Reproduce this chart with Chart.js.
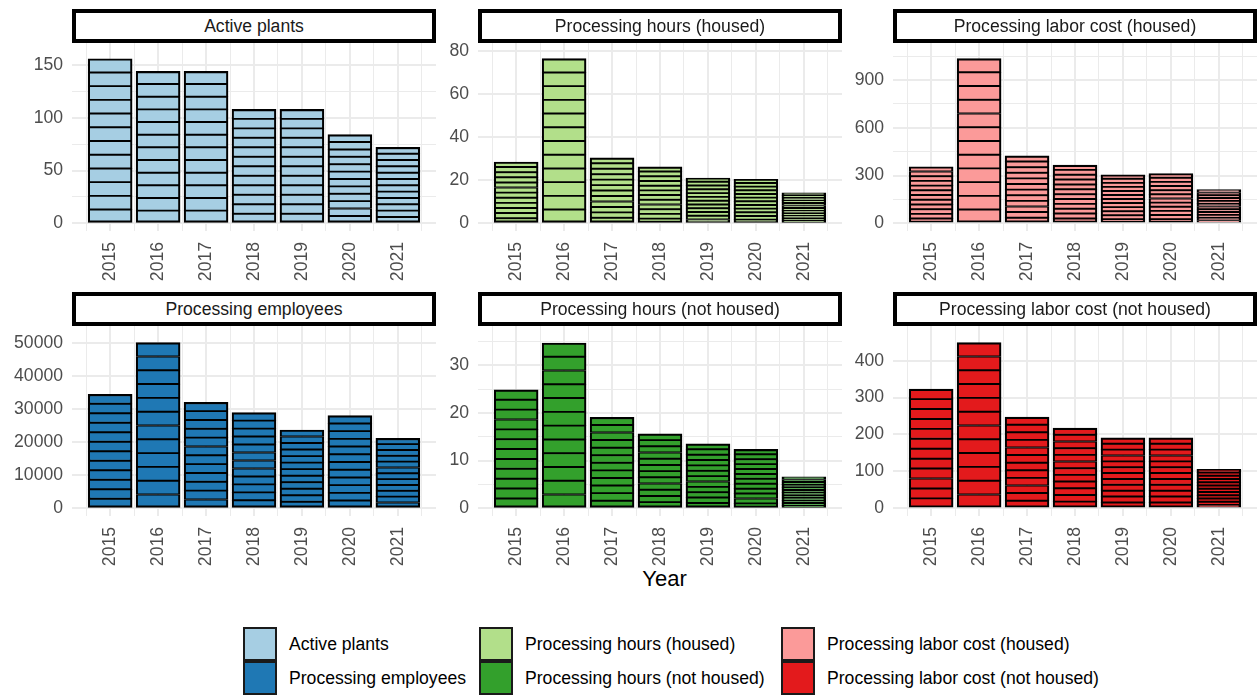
<!DOCTYPE html>
<html>
<head>
<meta charset="utf-8">
<script src="https://cdn.jsdelivr.net/npm/chart.js@4.4.1/dist/chart.umd.min.js"></script>
<style>
  html, body { margin: 0; padding: 0; background: #ffffff; }
  body { width: 1259px; height: 696px; position: relative; overflow: hidden;
         font-family: "Liberation Sans", Arial, Helvetica, sans-serif; }
  canvas.panel { position: absolute; z-index: 1; }
  .strip { position: absolute; box-sizing: border-box; border: 4px solid #000; background: #fff;
           font-size: 17.6px; color: #1a1a1a; display: flex; align-items: center; justify-content: center;
           z-index: 2; white-space: nowrap; }
  .xtitle { position: absolute; font-size: 22px; color: #000; transform: translate(-50%, -50%); white-space: nowrap; }
  .legend-item { position: absolute; display: flex; align-items: center; white-space: nowrap; }
  .swatch { box-sizing: border-box; width: 34px; height: 34px; border: 2px solid #1a1a1a; }
  .legend-text { font-size: 17.6px; color: #000; margin-left: 12px; }
</style>
</head>
<body>
<script>
// ---------------- data ----------------
const years = [2015, 2016, 2017, 2018, 2019, 2020, 2021];
const months = ['Jan', 'Feb', 'Mar', 'Apr', 'May', 'Jun', 'Jul', 'Aug', 'Sep', 'Oct', 'Nov', 'Dec'];

// each bar is a stack of 12 equal monthly segments; values are per-month
const activePlants        = [13, 12, 12, 9, 9, 7, 6];
const processingEmployees = [2868, 4167, 2667, 2406, 1970, 2330, 1761];
const hoursHoused         = [2.37, 6.36, 2.53, 2.18, 1.75, 1.70, 1.18];
const hoursNotHoused      = [2.07, 2.89, 1.59, 1.30, 1.125, 1.03, 0.55];
const laborHoused         = [29.6, 86.2, 35.25, 30.5, 25.4, 26.0, 17.6];
const laborNotHoused      = [26.9, 37.4, 20.6, 18.1, 15.9, 15.9, 8.8];

// tick labels (major) and minor grid positions
const xMajorTicks = [2015, 2016, 2017, 2018, 2019, 2020, 2021];
const xMinorTicks = [2014.5, 2015.5, 2016.5, 2017.5, 2018.5, 2019.5, 2020.5, 2021.5];

const yMajorActive = [0, 50, 100, 150];
const yMinorActive = [25, 75, 125];
const yMajorEmployees = [0, 10000, 20000, 30000, 40000, 50000];
const yMinorEmployees = [5000, 15000, 25000, 35000, 45000];
const yMajorHoursH = [0, 20, 40, 60, 80];
const yMinorHoursH = [10, 30, 50, 70];
const yMajorHoursNH = [0, 10, 20, 30];
const yMinorHoursNH = [5, 15, 25, 35];
const yMajorLaborH = [0, 300, 600, 900];
const yMinorLaborH = [150, 450, 750, 1050];
const yMajorLaborNH = [0, 100, 200, 300, 400];
const yMinorLaborNH = [50, 150, 250, 350, 450];

const titles = ['Active plants', 'Processing employees', 'Processing hours (housed)',
                'Processing hours (not housed)', 'Processing labor cost (housed)', 'Processing labor cost (not housed)'];

// ---------------- layout / style ----------------
const colors = {
  'Active plants': '#A6CEE3',
  'Processing employees': '#1F78B4',
  'Processing hours (housed)': '#B2DF8A',
  'Processing hours (not housed)': '#33A02C',
  'Processing labor cost (housed)': '#FB9A99',
  'Processing labor cost (not housed)': '#E31A1C'
};

const colLeft = [72, 478, 893];
const panelW = 364;
const rows = [
  { stripTop: 9,   stripH: 34, top: 43,  bottom: 231 },
  { stripTop: 292, stripH: 34, top: 326, bottom: 516 }
];
const Y_AXIS_W = 72, X_AXIS_H = 60, PAD_TOP = 26, PAD_RIGHT = 40;

const panels = [
  { title: titles[0], values: activePlants,        major: yMajorActive,    minor: yMinorActive,    min: -7.3,  max: 170.9, row: 0, col: 0 },
  { title: titles[2], values: hoursHoused,         major: yMajorHoursH,    minor: yMinorHoursH,    min: -3.57, max: 83.6,  row: 0, col: 1 },
  { title: titles[4], values: laborHoused,         major: yMajorLaborH,    minor: yMinorLaborH,    min: -48.4, max: 1132.5, row: 0, col: 2 },
  { title: titles[1], values: processingEmployees, major: yMajorEmployees, minor: yMinorEmployees, min: -2325, max: 55042, row: 1, col: 0 },
  { title: titles[3], values: hoursNotHoused,      major: yMajorHoursNH,   minor: yMinorHoursNH,   min: -1.615, max: 38.24, row: 1, col: 1 },
  { title: titles[5], values: laborNotHoused,      major: yMajorLaborNH,   minor: yMinorLaborNH,   min: -20.9, max: 494,   row: 1, col: 2 }
];

Chart.defaults.font.family = '"Liberation Sans", Arial, Helvetica, sans-serif';

const xAll = xMajorTicks.concat(xMinorTicks).sort((a, b) => a - b);
const LAST = months.length - 1;

panels.forEach(p => {
  const r = rows[p.row];
  const left = colLeft[p.col];
  const panelH = r.bottom - r.top;

  const cv = document.createElement('canvas');
  cv.className = 'panel';
  cv.width = Y_AXIS_W + panelW + PAD_RIGHT;
  cv.height = PAD_TOP + panelH + X_AXIS_H;
  cv.style.left = (left - Y_AXIS_W) + 'px';
  cv.style.top = (r.top - PAD_TOP) + 'px';
  document.body.appendChild(cv);

  const yAll = p.major.concat(p.minor).sort((a, b) => a - b);
  const color = colors[p.title];

  const chart = new Chart(cv.getContext('2d'), {
    type: 'bar',
    data: {
      datasets: months.map((m, mi) => ({
        label: m,
        data: years.map((yr, i) => ({ x: yr, y: p.values[i] })),
        backgroundColor: color,
        borderColor: '#000000',
        borderWidth: { left: 2.2, right: 2.2, top: mi === LAST ? 2.2 : 1.3, bottom: mi === 0 ? 2.2 : 1.3 },
        borderSkipped: false,
        barThickness: 44
      }))
    },
    options: {
      responsive: false,
      maintainAspectRatio: false,
      animation: false,
      devicePixelRatio: 1,
      layout: { padding: { top: PAD_TOP, left: 0, right: PAD_RIGHT, bottom: 0 } },
      plugins: { legend: { display: false }, tooltip: { enabled: false } },
      scales: {
        x: {
          type: 'linear', stacked: true, min: 2014.205, max: 2021.795, offset: false,
          border: { display: false },
          grid: {
            offset: false, drawTicks: false, color: '#EBEBEB',
            lineWidth: c => (c.tick && xMajorTicks.includes(c.tick.value)) ? 2 : 1
          },
          ticks: {
            autoSkip: false, minRotation: 90, maxRotation: 90, padding: 11,
            color: '#4D4D4D', font: { size: 17.6 },
            callback: v => xMajorTicks.includes(v) ? String(v) : ''
          },
          afterBuildTicks: s => { s.ticks = xAll.map(v => ({ value: v })); },
          afterFit: s => { s.height = X_AXIS_H; }
        },
        y: {
          type: 'linear', stacked: true, min: p.min, max: p.max,
          border: { display: false },
          grid: {
            drawTicks: false, color: '#EBEBEB',
            lineWidth: c => (c.tick && p.major.includes(c.tick.value)) ? 2 : 1
          },
          ticks: {
            padding: 9, color: '#4D4D4D', font: { size: 17.6 },
            callback: v => p.major.includes(v) ? String(v) : ''
          },
          afterBuildTicks: s => { s.ticks = yAll.map(v => ({ value: v })); },
          afterFit: s => { s.width = Y_AXIS_W; }
        }
      }
    }
  });

  // align the chart area precisely with the panel rectangle
  const ca = chart.chartArea;
  cv.style.left = (left - ca.left) + 'px';
  cv.style.top = (r.top - ca.top) + 'px';

  const strip = document.createElement('div');
  strip.className = 'strip';
  strip.style.left = left + 'px';
  strip.style.top = r.stripTop + 'px';
  strip.style.width = panelW + 'px';
  strip.style.height = r.stripH + 'px';
  strip.textContent = p.title;
  document.body.appendChild(strip);
});

// x axis title
const xt = document.createElement('div');
xt.className = 'xtitle';
xt.style.left = '664.5px';
xt.style.top = '579px';
xt.textContent = 'Year';
document.body.appendChild(xt);

// legend (3 columns x 2 rows)
const legendCols = [243, 479, 781];
const legendRows = [627, 661];
titles.forEach((t, i) => {
  const col = Math.floor(i / 2), row = i % 2;
  const item = document.createElement('div');
  item.className = 'legend-item';
  item.style.left = legendCols[col] + 'px';
  item.style.top = legendRows[row] + 'px';
  const sw = document.createElement('div');
  sw.className = 'swatch';
  sw.style.background = colors[t];
  const tx = document.createElement('span');
  tx.className = 'legend-text';
  tx.textContent = t;
  item.appendChild(sw);
  item.appendChild(tx);
  document.body.appendChild(item);
});
</script>
</body>
</html>
